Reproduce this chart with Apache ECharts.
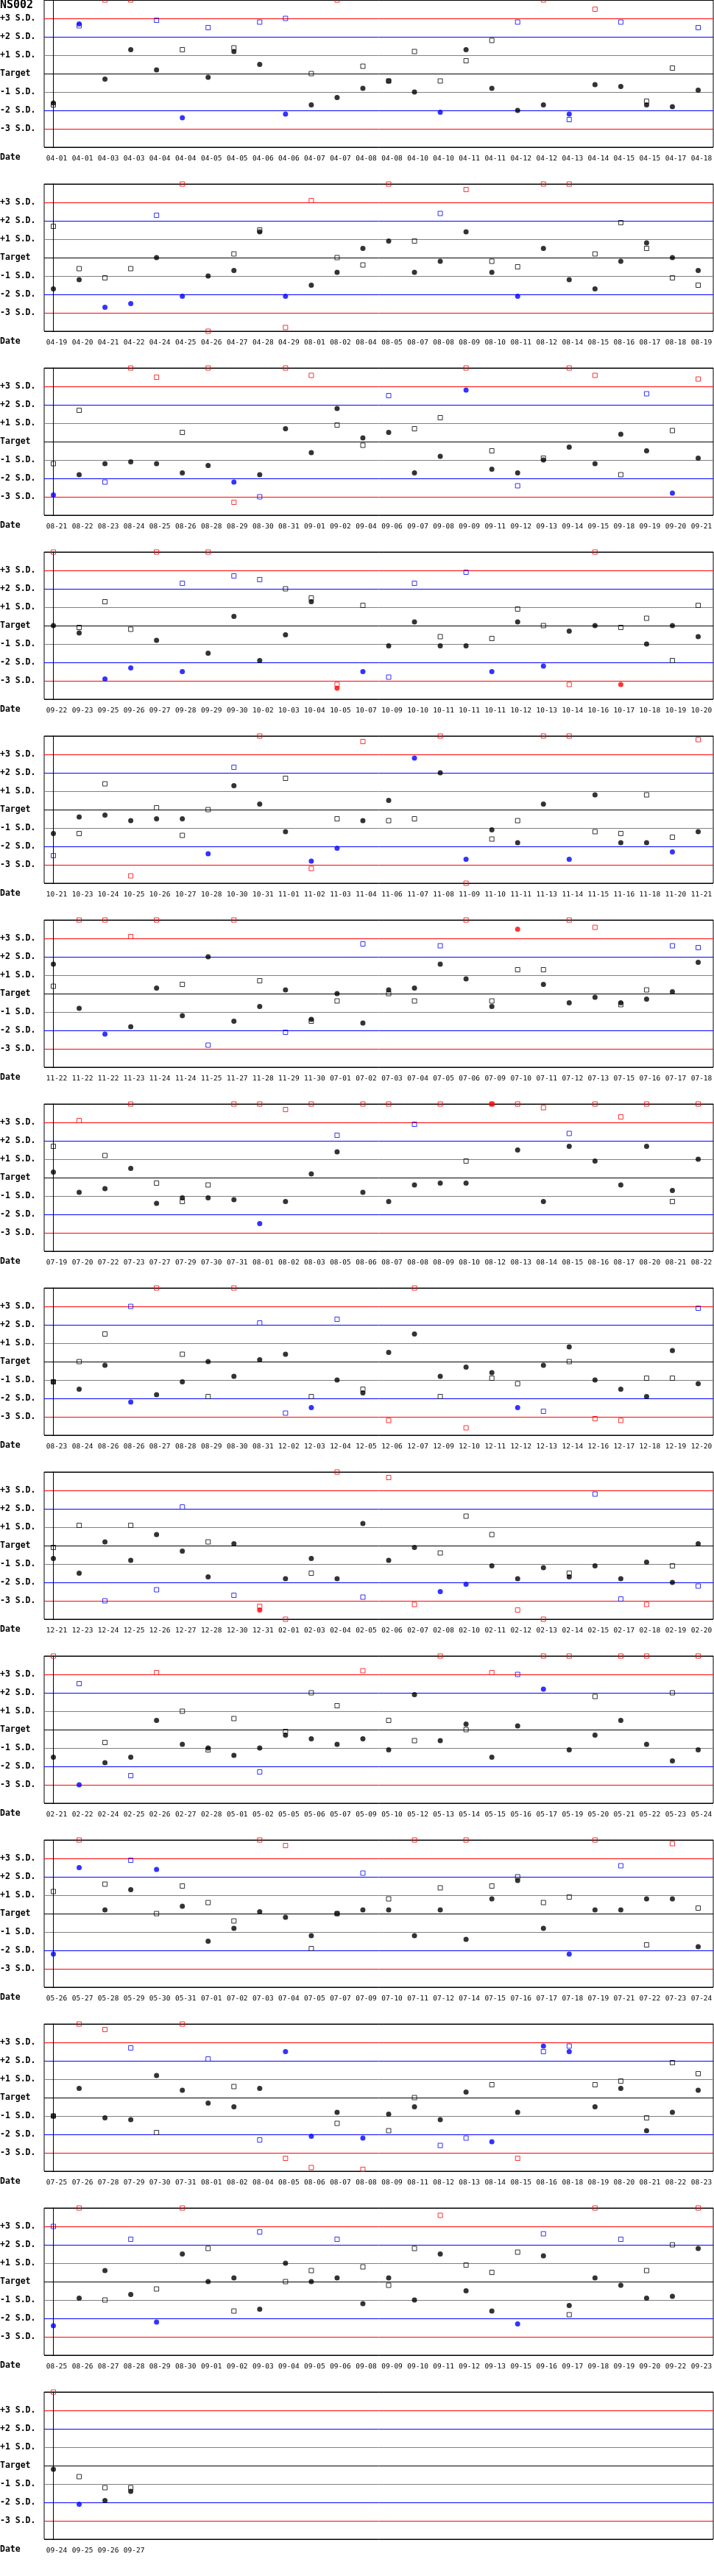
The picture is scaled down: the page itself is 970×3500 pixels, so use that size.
<!DOCTYPE html>
<html><head><meta charset="utf-8">
<script src="https://cdn.jsdelivr.net/npm/echarts@6/dist/echarts.min.js"></script>
<style>html,body{margin:0;padding:0;background:#fff}#chart{width:970px;height:3500px}</style>
</head><body><div id="chart"></div>
<script>
// ---- tick labels of the SD axis ----
const sdLevels = [3, 2, 1, 0, -1, -2, -3];
const sdLabels = ['+3 S.D.', '+2 S.D.', '+1 S.D.', 'Target', '-1 S.D.', '-2 S.D.', '-3 S.D.'];
const chartTitle = 'NS002';
const xName = 'Date';

// ---- data: dN = dates, cN = level 1 (filled circles), sN = level 2 (open squares), in S.D. ----
const d1 = ['04-01','04-01','04-03','04-03','04-04','04-04','04-05','04-05','04-06','04-06','04-07','04-07','04-08','04-08','04-10','04-10','04-11','04-11','04-12','04-12','04-13','04-14','04-15','04-15','04-17','04-18'];
const c1 = [-1.6, 2.7, -0.3, 1.3, 0.2, -2.4, -0.2, 1.2, 0.5, -2.2, -1.7, -1.3, -0.8, -0.4, -1.0, -2.1, 1.3, -0.8, -2.0, -1.7, -2.2, -0.6, -0.7, -1.7, -1.8, -0.9];
const s1 = [-1.7, 2.6, 4, 4, 2.9, 1.3, 2.5, 1.4, 2.8, 3.0, 0, 4, 0.4, -0.4, 1.2, -0.4, 0.7, 1.8, 2.8, 4, -2.5, 3.5, 2.8, -1.5, 0.3, 2.5];

const d2 = ['04-19','04-20','04-21','04-22','04-24','04-25','04-26','04-27','04-28','04-29','08-01','08-02','08-04','08-05','08-07','08-08','08-09','08-10','08-11','08-12','08-14','08-15','08-16','08-17','08-18','08-19'];
const c2 = [-1.7, -1.2, -2.7, -2.5, 0, -2.1, -1.0, -0.7, 1.4, -2.1, -1.5, -0.8, 0.5, 0.9, -0.8, -0.2, 1.4, -0.8, -2.1, 0.5, -1.2, -1.7, -0.2, 0.8, 0, -0.7];
const s2 = [1.7, -0.6, -1.1, -0.6, 2.3, 4, -4, 0.2, 1.5, -3.8, 3.1, 0, -0.4, 4, 0.9, 2.4, 3.7, -0.2, -0.5, 4, 4, 0.2, 1.9, 0.5, -1.1, -1.5];

const d3 = ['08-21','08-22','08-23','08-24','08-25','08-26','08-28','08-29','08-30','08-31','09-01','09-02','09-04','09-06','09-07','09-08','09-09','09-11','09-12','09-13','09-14','09-15','09-18','09-19','09-20','09-21'];
const c3 = [-2.9, -1.8, -1.2, -1.1, -1.2, -1.7, -1.3, -2.2, -1.8, 0.7, -0.6, 1.8, 0.2, 0.5, -1.7, -0.8, 2.8, -1.5, -1.7, -1.0, -0.3, -1.2, 0.4, -0.5, -2.8, -0.9];
const s3 = [-1.2, 1.7, -2.2, 4, 3.5, 0.5, 4, -3.3, -3.0, 4, 3.6, 0.9, -0.2, 2.5, 0.7, 1.3, 4, -0.5, -2.4, -0.9, 4, 3.6, -1.8, 2.6, 0.6, 3.4];

const d4 = ['09-22','09-23','09-25','09-26','09-27','09-28','09-29','09-30','10-02','10-03','10-04','10-05','10-07','10-09','10-10','10-11','10-11','10-11','10-12','10-13','10-14','10-16','10-17','10-18','10-19','10-20'];
const c4 = [0, -0.4, -2.9, -2.3, -0.8, -2.5, -1.5, 0.5, -1.9, -0.5, 1.3, -3.4, -2.5, -1.1, 0.2, -1.1, -1.1, -2.5, 0.2, -2.2, -0.3, 0, -3.2, -1.0, 0, -0.6];
const s4 = [4, -0.1, 1.3, -0.2, 4, 2.3, 4, 2.7, 2.5, 2.0, 1.5, -3.2, 1.1, -2.8, 2.3, -0.6, 2.9, -0.7, 0.9, 0, -3.2, 4, -0.1, 0.4, -1.9, 1.1];

const d5 = ['10-21','10-23','10-24','10-25','10-26','10-27','10-28','10-30','10-31','11-01','11-02','11-03','11-04','11-06','11-07','11-08','11-09','11-10','11-11','11-13','11-14','11-15','11-16','11-18','11-20','11-21'];
const c5 = [-1.3, -0.4, -0.3, -0.6, -0.5, -0.5, -2.4, 1.3, 0.3, -1.2, -2.8, -2.1, -0.6, 0.5, 2.8, 2.0, -2.7, -1.1, -1.8, 0.3, -2.7, 0.8, -1.8, -1.8, -2.3, -1.2];
const s5 = [-2.5, -1.3, 1.4, -3.6, 0.1, -1.4, 0, 2.3, 4, 1.7, -3.2, -0.5, 3.7, -0.6, -0.5, 4, -4, -1.6, -0.6, 4, 4, -1.2, -1.3, 0.8, -1.5, 3.8];

const d6 = ['11-22','11-22','11-22','11-23','11-24','11-24','11-25','11-27','11-28','11-29','11-30','07-01','07-02','07-03','07-04','07-05','07-06','07-09','07-10','07-11','07-12','07-13','07-15','07-16','07-17','07-18'];
const c6 = [1.6, -0.8, -2.2, -1.8, 0.3, -1.2, 2.0, -1.5, -0.7, 0.2, -1.4, 0, -1.6, 0.2, 0.3, 1.6, 0.8, -0.7, 3.5, 0.5, -0.5, -0.2, -0.5, -0.3, 0.1, 1.7];
const s6 = [0.4, 4, 4, 3.1, 4, 0.5, -2.8, 4, 0.7, -2.1, -1.5, -0.4, 2.7, 0, -0.4, 2.6, 4, -0.4, 1.3, 1.3, 4, 3.6, -0.6, 0.2, 2.6, 2.5];

const d7 = ['07-19','07-20','07-22','07-23','07-27','07-29','07-30','07-31','08-01','08-02','08-03','08-05','08-06','08-07','08-08','08-09','08-10','08-12','08-13','08-14','08-15','08-16','08-17','08-20','08-21','08-22'];
const c7 = [0.3, -0.8, -0.6, 0.5, -1.4, -1.1, -1.1, -1.2, -2.5, -1.3, 0.2, 1.4, -0.8, -1.3, -0.4, -0.3, -0.3, 4, 1.5, -1.3, 1.7, 0.9, -0.4, 1.7, -0.7, 1.0];
const s7 = [1.7, 3.1, 1.2, 4, -0.3, -1.3, -0.4, 4, 4, 3.7, 4, 2.3, 4, 4, 2.9, 4, 0.9, 4, 4, 3.8, 2.4, 4, 3.3, 4, -1.3, 4];

const d8 = ['08-23','08-24','08-26','08-26','08-27','08-28','08-29','08-30','08-31','12-02','12-03','12-04','12-05','12-06','12-07','12-09','12-10','12-11','12-12','12-13','12-14','12-16','12-17','12-18','12-19','12-20'];
const c8 = [-1.1, -1.5, -0.2, -2.2, -1.8, -1.1, 0, -0.8, 0.1, 0.4, -2.5, -1.0, -1.7, 0.5, 1.5, -0.8, -0.3, -0.6, -2.5, -0.2, 0.8, -1.0, -1.5, -1.9, 0.6, -1.2];
const s8 = [-1.1, 0, 1.5, 3.0, 4, 0.4, -1.9, 4, 2.1, -2.8, -1.9, 2.3, -1.5, -3.2, 4, -1.9, -3.6, -0.9, -1.2, -2.7, 0, -3.1, -3.2, -0.9, -0.9, 2.9];

const d9 = ['12-21','12-23','12-24','12-25','12-26','12-27','12-28','12-30','12-31','02-01','02-03','02-04','02-05','02-06','02-07','02-08','02-10','02-11','02-12','02-13','02-14','02-15','02-17','02-18','02-19','02-20'];
const c9 = [-0.7, -1.5, 0.2, -0.8, 0.6, -0.3, -1.7, 0.1, -3.5, -1.8, -0.7, -1.8, 1.2, -0.8, -0.1, -2.5, -2.1, -1.1, -1.8, -1.2, -1.7, -1.1, -1.8, -0.9, -2.0, 0.1];
const s9 = [-0.1, 1.1, -3.0, 1.1, -2.4, 2.1, 0.2, -2.7, -3.3, -4, -1.5, 4, -2.8, 3.7, -3.2, -0.4, 1.6, 0.6, -3.5, -4, -1.5, 2.8, -2.9, -3.2, -1.1, -2.2];

const d10 = ['02-21','02-22','02-24','02-25','02-26','02-27','02-28','05-01','05-02','05-05','05-06','05-07','05-09','05-10','05-12','05-13','05-14','05-15','05-16','05-17','05-19','05-20','05-21','05-22','05-23','05-24'];
const c10 = [-1.5, -3.0, -1.8, -1.5, 0.5, -0.8, -1.0, -1.4, -1.0, -0.3, -0.5, -0.8, -0.5, -1.1, 1.9, -0.6, 0.3, -1.5, 0.2, 2.2, -1.1, -0.3, 0.5, -0.8, -1.7, -1.1];
const s10 = [4, 2.5, -0.7, -2.5, 3.1, 1.0, -1.1, 0.6, -2.3, -0.1, 2.0, 1.3, 3.2, 0.5, -0.6, 4, 0, 3.1, 3.0, 4, 4, 1.8, 4, 4, 2.0, 4];

const d11 = ['05-26','05-27','05-28','05-29','05-30','05-31','07-01','07-02','07-03','07-04','07-05','07-07','07-09','07-10','07-11','07-12','07-14','07-15','07-16','07-17','07-18','07-19','07-21','07-22','07-23','07-24'];
const c11 = [-2.2, 2.5, 0.2, 1.3, 2.4, 0.4, -1.5, -0.8, 0.1, -0.2, -1.2, 0, 0.2, 0.2, -1.2, 0.2, -1.4, 0.8, 1.8, -0.8, -2.2, 0.2, 0.2, 0.8, 0.8, -1.8];
const s11 = [1.2, 4, 1.6, 2.9, 0, 1.5, 0.6, -0.4, 4, 3.7, -1.9, 0, 2.2, 0.8, 4, 1.4, 4, 1.5, 2.0, 0.6, 0.9, 4, 2.6, -1.7, 3.8, 0.3];

const d12 = ['07-25','07-26','07-28','07-29','07-30','07-31','08-01','08-02','08-04','08-05','08-06','08-07','08-08','08-09','08-11','08-12','08-13','08-14','08-15','08-16','08-18','08-19','08-20','08-21','08-22','08-23'];
const c12 = [-1.0, 0.5, -1.1, -1.2, 1.2, 0.4, -0.3, -0.5, 0.5, 2.5, -2.1, -0.8, -2.2, -0.9, -0.5, -1.2, 0.3, -2.4, -0.8, 2.8, 2.5, -0.5, 0.5, -1.8, -0.8, 0.4];
const s12 = [-1.0, 4, 3.7, 2.7, -1.9, 4, 2.1, 0.6, -2.3, -3.3, -3.8, -1.4, -3.9, -1.8, 0, -2.6, -2.2, 0.7, -3.3, 2.5, 2.8, 0.7, 0.9, -1.1, 1.9, 1.3];

const d13 = ['08-25','08-26','08-27','08-28','08-29','08-30','09-01','09-02','09-03','09-04','09-05','09-06','09-08','09-09','09-10','09-11','09-12','09-13','09-15','09-16','09-17','09-18','09-19','09-20','09-22','09-23'];
const c13 = [-2.4, -0.9, 0.6, -0.7, -2.2, 1.5, 0, 0.2, -1.5, 1.0, 0, 0.2, -1.2, 0.2, -1.0, 1.5, -0.5, -1.6, -2.3, 1.4, -1.3, 0.2, -0.2, -0.9, -0.8, 1.8];
const s13 = [3.0, 4, -1.0, 2.3, -0.4, 4, 1.8, -1.6, 2.7, 0, 0.6, 2.3, 0.8, -0.2, 1.8, 3.6, 0.9, 0.5, 1.6, 2.6, -1.8, 4, 2.3, 0.6, 2.0, 4];

const d14 = ['09-24','09-25','09-26','09-27'];
const c14 = [-0.2, -2.1, -1.9, -1.4];
const s14 = [4, -0.6, -1.2, -1.2];

const panels = [
  [d1, c1, s1], [d2, c2, s2], [d3, c3, s3], [d4, c4, s4], [d5, c5, s5],
  [d6, c6, s6], [d7, c7, s7], [d8, c8, s8], [d9, c9, s9], [d10, c10, s10],
  [d11, c11, s11], [d12, c12, s12], [d13, c13, s13], [d14, c14, s14]
];

// ---- styling ----
const FONT = 'DejaVu Sans Mono';
const RED = '#ff0000', BLUE = '#0000ff', BLACK = '#000000', GRAY = '#808080';
function bandColor(v) {
  const a = Math.abs(v);
  return a > 3 ? RED : (a > 2 ? BLUE : BLACK);
}
const PANEL_STEP = 250, PLOT_H = 200, PLOT_L = 60, PLOT_W = 909;
// split lines at -4..4 (symmetric)
const splitColors = [BLACK, RED, BLUE, GRAY, BLACK, GRAY, BLUE, RED, BLACK];

const title = [{
  text: chartTitle, left: 0, top: 0, padding: 0,
  textStyle: { fontFamily: FONT, fontSize: 15, fontWeight: 'bold', color: BLACK }
}];
panels.forEach((_, p) => {
  title.push({
    text: xName, left: 0, top: PANEL_STEP * p + 208, padding: 0,
    textStyle: { fontFamily: FONT, fontSize: 11.5, fontWeight: 'bold', color: BLACK }
  });
});

const grid = panels.map((_, p) => ({
  left: PLOT_L, top: PANEL_STEP * p, width: PLOT_W, height: PLOT_H,
  show: true, borderColor: BLACK, borderWidth: 1, backgroundColor: 'transparent',
  containLabel: false, outerBoundsMode: 'none'
}));

const xAxis = panels.map(([d], p) => ({
  gridIndex: p, type: 'value', min: -0.357, max: 25.585,
  axisLine: { show: false }, axisTick: { show: false }, splitLine: { show: false },
  axisLabel: {
    customValues: d.map((_, i) => i),
    formatter: v => d[Math.round(v)] || '',
    fontFamily: FONT, fontSize: 9.5, color: BLACK, margin: 11,
    padding: [0, 0, 0, 9], hideOverlap: false
  }
}));

const yAxis = panels.map((_, p) => ({
  gridIndex: p, type: 'value', min: -4, max: 4, interval: 1,
  axisLine: { show: true, lineStyle: { color: BLACK, width: 1 } },
  axisTick: { show: false },
  splitLine: { show: true, lineStyle: { color: splitColors, width: 1 } },
  axisLabel: {
    margin: PLOT_L, align: 'left',
    fontFamily: FONT, fontSize: 11.5, fontWeight: 'bold', color: BLACK,
    formatter: v => { const k = sdLevels.indexOf(v); return k >= 0 ? sdLabels[k] : ''; }
  }
}));

const series = [];
panels.forEach(([d, c, s], p) => {
  series.push({
    type: 'scatter', xAxisIndex: p, yAxisIndex: p, symbol: 'rect', symbolSize: 6,
    clip: false, silent: true, z: 3,
    data: s.map((v, i) => ({ value: [i, v], itemStyle: { color: 'rgba(255,255,255,0)', borderColor: bandColor(v), borderWidth: 1 } }))
  });
  series.push({
    type: 'scatter', xAxisIndex: p, yAxisIndex: p, symbol: 'circle', symbolSize: 7,
    clip: false, silent: true, z: 4,
    data: c.map((v, i) => ({ value: [i, v], itemStyle: { color: bandColor(v), borderWidth: 0 } }))
  });
});

const chart = echarts.init(document.getElementById('chart'), null, { renderer: 'canvas' });
chart.setOption({
  animation: false,
  backgroundColor: '#ffffff',
  title, grid, xAxis, yAxis, series
});
</script></body></html>
